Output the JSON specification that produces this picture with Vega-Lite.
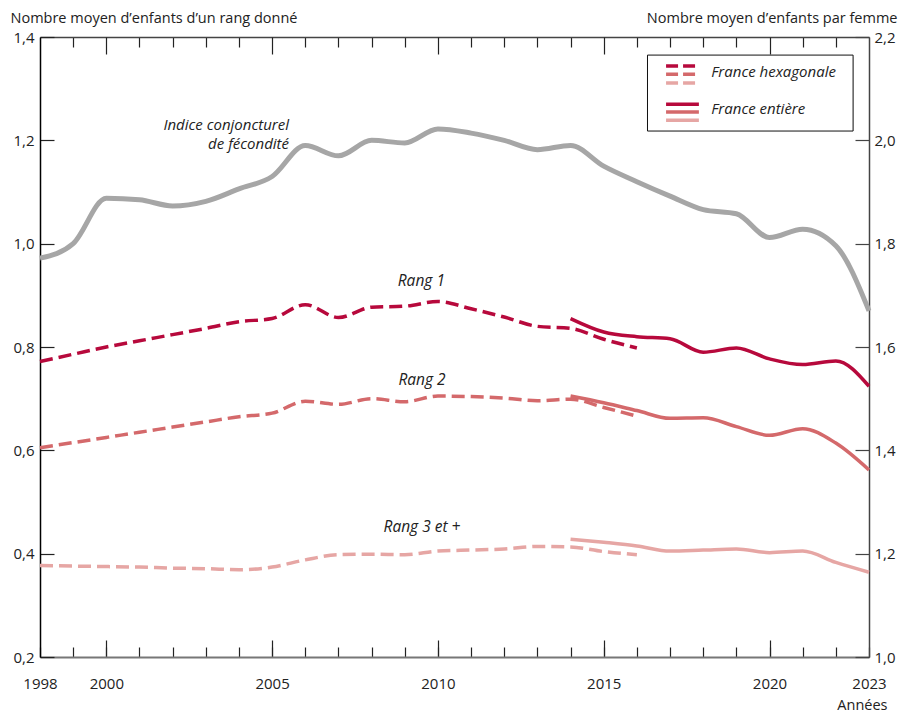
{
  "$schema": "https://vega.github.io/schema/vega-lite/v6.json",
  "width": 829,
  "height": 620,
  "autosize": {"type": "none"},
  "padding": {"left": 40, "top": 37, "right": 31, "bottom": 55},
  "background": "white",
  "config": {
    "view": {"stroke": null},
    "axis": {"grid": false, "labelFont": "Open Sans", "titleFont": "Open Sans", "labelFontSize": 15, "titleFontSize": 14.5, "labelColor": "#222", "titleColor": "#222", "titleFontWeight": "normal", "tickColor": "#222"},
    "text": {"font": "Open Sans"}
  },
  "datasets": {
    "icf": [
      {"year": 1998, "icf": 1.772}, {"year": 1999, "icf": 1.8}, {"year": 2000, "icf": 1.888}, {"year": 2001, "icf": 1.885},
      {"year": 2002, "icf": 1.873}, {"year": 2003, "icf": 1.882}, {"year": 2004, "icf": 1.906}, {"year": 2005, "icf": 1.93},
      {"year": 2006, "icf": 1.99}, {"year": 2007, "icf": 1.97}, {"year": 2008, "icf": 2.0}, {"year": 2009, "icf": 1.995},
      {"year": 2010, "icf": 2.022}, {"year": 2011, "icf": 2.014}, {"year": 2012, "icf": 2.0}, {"year": 2013, "icf": 1.982},
      {"year": 2014, "icf": 1.99}, {"year": 2015, "icf": 1.95}, {"year": 2016, "icf": 1.92}, {"year": 2017, "icf": 1.892},
      {"year": 2018, "icf": 1.866}, {"year": 2019, "icf": 1.858}, {"year": 2020, "icf": 1.812}, {"year": 2021, "icf": 1.828},
      {"year": 2022, "icf": 1.796}, {"year": 2023, "icf": 1.67}
    ],
    "rangs": [
      {"year": 1998, "rang": "Rang 1", "source": "hex", "value": 0.772},
      {"year": 1999, "rang": "Rang 1", "source": "hex", "value": 0.786},
      {"year": 2000, "rang": "Rang 1", "source": "hex", "value": 0.8},
      {"year": 2001, "rang": "Rang 1", "source": "hex", "value": 0.812},
      {"year": 2002, "rang": "Rang 1", "source": "hex", "value": 0.824},
      {"year": 2003, "rang": "Rang 1", "source": "hex", "value": 0.836},
      {"year": 2004, "rang": "Rang 1", "source": "hex", "value": 0.849},
      {"year": 2005, "rang": "Rang 1", "source": "hex", "value": 0.855},
      {"year": 2006, "rang": "Rang 1", "source": "hex", "value": 0.882},
      {"year": 2007, "rang": "Rang 1", "source": "hex", "value": 0.857},
      {"year": 2008, "rang": "Rang 1", "source": "hex", "value": 0.877},
      {"year": 2009, "rang": "Rang 1", "source": "hex", "value": 0.879},
      {"year": 2010, "rang": "Rang 1", "source": "hex", "value": 0.888},
      {"year": 2011, "rang": "Rang 1", "source": "hex", "value": 0.874},
      {"year": 2012, "rang": "Rang 1", "source": "hex", "value": 0.858},
      {"year": 2013, "rang": "Rang 1", "source": "hex", "value": 0.84},
      {"year": 2014, "rang": "Rang 1", "source": "hex", "value": 0.836},
      {"year": 2015, "rang": "Rang 1", "source": "hex", "value": 0.815},
      {"year": 2016, "rang": "Rang 1", "source": "hex", "value": 0.798},
      {"year": 2014, "rang": "Rang 1", "source": "ent", "value": 0.855},
      {"year": 2015, "rang": "Rang 1", "source": "ent", "value": 0.829},
      {"year": 2016, "rang": "Rang 1", "source": "ent", "value": 0.82},
      {"year": 2017, "rang": "Rang 1", "source": "ent", "value": 0.816},
      {"year": 2018, "rang": "Rang 1", "source": "ent", "value": 0.79},
      {"year": 2019, "rang": "Rang 1", "source": "ent", "value": 0.798},
      {"year": 2020, "rang": "Rang 1", "source": "ent", "value": 0.777},
      {"year": 2021, "rang": "Rang 1", "source": "ent", "value": 0.766},
      {"year": 2022, "rang": "Rang 1", "source": "ent", "value": 0.773},
      {"year": 2023, "rang": "Rang 1", "source": "ent", "value": 0.724},
      {"year": 1998, "rang": "Rang 2", "source": "hex", "value": 0.605},
      {"year": 1999, "rang": "Rang 2", "source": "hex", "value": 0.615},
      {"year": 2000, "rang": "Rang 2", "source": "hex", "value": 0.625},
      {"year": 2001, "rang": "Rang 2", "source": "hex", "value": 0.635},
      {"year": 2002, "rang": "Rang 2", "source": "hex", "value": 0.645},
      {"year": 2003, "rang": "Rang 2", "source": "hex", "value": 0.655},
      {"year": 2004, "rang": "Rang 2", "source": "hex", "value": 0.665},
      {"year": 2005, "rang": "Rang 2", "source": "hex", "value": 0.672},
      {"year": 2006, "rang": "Rang 2", "source": "hex", "value": 0.695},
      {"year": 2007, "rang": "Rang 2", "source": "hex", "value": 0.689},
      {"year": 2008, "rang": "Rang 2", "source": "hex", "value": 0.7},
      {"year": 2009, "rang": "Rang 2", "source": "hex", "value": 0.694},
      {"year": 2010, "rang": "Rang 2", "source": "hex", "value": 0.705},
      {"year": 2011, "rang": "Rang 2", "source": "hex", "value": 0.704},
      {"year": 2012, "rang": "Rang 2", "source": "hex", "value": 0.701},
      {"year": 2013, "rang": "Rang 2", "source": "hex", "value": 0.696},
      {"year": 2014, "rang": "Rang 2", "source": "hex", "value": 0.699},
      {"year": 2015, "rang": "Rang 2", "source": "hex", "value": 0.683},
      {"year": 2016, "rang": "Rang 2", "source": "hex", "value": 0.666},
      {"year": 2014, "rang": "Rang 2", "source": "ent", "value": 0.705},
      {"year": 2015, "rang": "Rang 2", "source": "ent", "value": 0.692},
      {"year": 2016, "rang": "Rang 2", "source": "ent", "value": 0.677},
      {"year": 2017, "rang": "Rang 2", "source": "ent", "value": 0.662},
      {"year": 2018, "rang": "Rang 2", "source": "ent", "value": 0.663},
      {"year": 2019, "rang": "Rang 2", "source": "ent", "value": 0.646},
      {"year": 2020, "rang": "Rang 2", "source": "ent", "value": 0.629},
      {"year": 2021, "rang": "Rang 2", "source": "ent", "value": 0.642},
      {"year": 2022, "rang": "Rang 2", "source": "ent", "value": 0.614},
      {"year": 2023, "rang": "Rang 2", "source": "ent", "value": 0.562},
      {"year": 1998, "rang": "Rang 3 et +", "source": "hex", "value": 0.377},
      {"year": 1999, "rang": "Rang 3 et +", "source": "hex", "value": 0.376},
      {"year": 2000, "rang": "Rang 3 et +", "source": "hex", "value": 0.375},
      {"year": 2001, "rang": "Rang 3 et +", "source": "hex", "value": 0.374},
      {"year": 2002, "rang": "Rang 3 et +", "source": "hex", "value": 0.372},
      {"year": 2003, "rang": "Rang 3 et +", "source": "hex", "value": 0.371},
      {"year": 2004, "rang": "Rang 3 et +", "source": "hex", "value": 0.369},
      {"year": 2005, "rang": "Rang 3 et +", "source": "hex", "value": 0.374},
      {"year": 2006, "rang": "Rang 3 et +", "source": "hex", "value": 0.388},
      {"year": 2007, "rang": "Rang 3 et +", "source": "hex", "value": 0.398},
      {"year": 2008, "rang": "Rang 3 et +", "source": "hex", "value": 0.399},
      {"year": 2009, "rang": "Rang 3 et +", "source": "hex", "value": 0.398},
      {"year": 2010, "rang": "Rang 3 et +", "source": "hex", "value": 0.405},
      {"year": 2011, "rang": "Rang 3 et +", "source": "hex", "value": 0.407},
      {"year": 2012, "rang": "Rang 3 et +", "source": "hex", "value": 0.409},
      {"year": 2013, "rang": "Rang 3 et +", "source": "hex", "value": 0.414},
      {"year": 2014, "rang": "Rang 3 et +", "source": "hex", "value": 0.413},
      {"year": 2015, "rang": "Rang 3 et +", "source": "hex", "value": 0.404},
      {"year": 2016, "rang": "Rang 3 et +", "source": "hex", "value": 0.398},
      {"year": 2014, "rang": "Rang 3 et +", "source": "ent", "value": 0.428},
      {"year": 2015, "rang": "Rang 3 et +", "source": "ent", "value": 0.422},
      {"year": 2016, "rang": "Rang 3 et +", "source": "ent", "value": 0.415},
      {"year": 2017, "rang": "Rang 3 et +", "source": "ent", "value": 0.405},
      {"year": 2018, "rang": "Rang 3 et +", "source": "ent", "value": 0.407},
      {"year": 2019, "rang": "Rang 3 et +", "source": "ent", "value": 0.409},
      {"year": 2020, "rang": "Rang 3 et +", "source": "ent", "value": 0.402},
      {"year": 2021, "rang": "Rang 3 et +", "source": "ent", "value": 0.405},
      {"year": 2022, "rang": "Rang 3 et +", "source": "ent", "value": 0.383},
      {"year": 2023, "rang": "Rang 3 et +", "source": "ent", "value": 0.364}
    ],
    "icfLabel": [
      {"label": "Indice conjoncturel", "year": 2005.51, "value": 1.23},
      {"label": "de fécondité", "year": 2005.51, "value": 1.192}
    ],
    "rangLabels": [
      {"label": "Rang 1", "year": 2009.5, "value": 0.928},
      {"label": "Rang 2", "year": 2009.52, "value": 0.736},
      {"label": "Rang 3 et +", "year": 2009.52, "value": 0.452}
    ],
    "one": [{}]
  },
  "layer": [
    {
      "data": {"name": "rangs"},
      "transform": [{"filter": "datum.source === 'hex'"}],
      "mark": {"type": "line", "strokeWidth": 3.5, "strokeDash": [13, 6], "interpolate": "monotone"},
      "encoding": {
        "x": {
          "field": "year", "type": "quantitative",
          "scale": {"domain": [1998, 2023], "nice": false, "zero": false},
          "axis": {"orient": "bottom", "values": [2000, 2005, 2010, 2015, 2020], "tickSize": -17, "tickWidth": 1.2, "labels": false, "domain": false, "title": null}
        },
        "y": {
          "field": "value", "type": "quantitative",
          "scale": {"domain": [0.2, 1.4], "nice": false, "zero": false},
          "axis": {
            "orient": "left",
            "values": [0.2, 0.4, 0.6, 0.8, 1.0, 1.2, 1.4],
            "labelExpr": "replace(format(datum.value, '.1f'), '.', ',')",
            "tickSize": -14, "tickWidth": 1.2,
            "domainColor": "#000", "domainWidth": 1.5,
            "labelPadding": 20, "labelBaseline": "middle",
            "title": "Nombre moyen d’enfants d’un rang donné", "titleAngle": 0, "titleAlign": "left", "titleBaseline": "middle",
            "titleX": -30, "titleY": -19
          }
        },
        "color": {"field": "rang", "type": "nominal", "scale": {"domain": ["Rang 1", "Rang 2", "Rang 3 et +"], "range": ["#b7093c", "#d4696b", "#e6a6a4"]}, "legend": null}
      }
    },
    {
      "data": {"name": "rangs"},
      "transform": [{"filter": "datum.source === 'ent'"}],
      "mark": {"type": "line", "strokeWidth": 3.5, "interpolate": "monotone"},
      "encoding": {
        "x": {
          "field": "year", "type": "quantitative",
          "scale": {"domain": [1998, 2023], "nice": false, "zero": false},
          "axis": {"orient": "top", "values": [1999, 2001, 2002, 2003, 2004, 2006, 2007, 2008, 2009, 2011, 2012, 2013, 2014, 2016, 2017, 2018, 2019, 2021, 2022], "tickSize": -10, "tickWidth": 1.2, "labels": false, "domainColor": "#444", "domainWidth": 1.5, "title": null}
        },
        "y": {"field": "value", "type": "quantitative", "scale": {"domain": [0.2, 1.4], "nice": false, "zero": false}, "axis": null},
        "color": {"field": "rang", "type": "nominal", "scale": {"domain": ["Rang 1", "Rang 2", "Rang 3 et +"], "range": ["#b7093c", "#d4696b", "#e6a6a4"]}, "legend": null}
      }
    },
    {
      "data": {"name": "icf"},
      "mark": {"type": "line", "stroke": "#a6a6a6", "strokeWidth": 5, "interpolate": "monotone"},
      "encoding": {
        "x": {
          "field": "year", "type": "quantitative",
          "scale": {"domain": [1998, 2023], "nice": false, "zero": false},
          "axis": {
            "orient": "bottom",
            "values": [1998, 1999, 2000, 2001, 2002, 2003, 2004, 2005, 2006, 2007, 2008, 2009, 2010, 2011, 2012, 2013, 2014, 2015, 2016, 2017, 2018, 2019, 2020, 2021, 2022, 2023],
            "format": "d",
            "labelExpr": "indexof([1998, 2000, 2005, 2010, 2015, 2020, 2023], datum.value) >= 0 ? datum.label : ''",
            "tickSize": -10, "tickWidth": 1.2,
            "domainColor": "#777", "domainWidth": 2,
            "labelPadding": 29, "labelOverlap": false, "labelFlush": false, "labelBound": false,
            "title": "Années", "titleAngle": 0, "titleAlign": "right", "titleBaseline": "middle",
            "titleX": 847, "titleY": 48
          }
        },
        "y": {
          "field": "icf", "type": "quantitative",
          "scale": {"domain": [1.0, 2.2], "nice": false, "zero": false},
          "axis": {
            "orient": "right",
            "values": [1.0, 1.2, 1.4, 1.6, 1.8, 2.0, 2.2],
            "labelExpr": "replace(format(datum.value, '.1f'), '.', ',')",
            "tickSize": -14, "tickWidth": 1.2, "tickColor": "#444",
            "domainColor": "#444", "domainWidth": 1.5,
            "labelPadding": 19, "labelBaseline": "middle",
            "title": "Nombre moyen d’enfants par femme", "titleAngle": 0, "titleAlign": "right", "titleBaseline": "middle",
            "titleX": 28, "titleY": -19
          }
        }
      }
    },
    {
      "data": {"name": "icfLabel"},
      "mark": {"type": "text", "align": "right", "baseline": "middle", "fontStyle": "italic", "fontSize": 15, "color": "#222"},
      "encoding": {
        "x": {
          "field": "year", "type": "quantitative",
          "scale": {"domain": [1998, 2023], "nice": false, "zero": false},
          "axis": {"orient": "top", "values": [2000, 2005, 2010, 2015, 2020], "tickSize": -17, "tickWidth": 1.2, "labels": false, "domain": false, "title": null}
        },
        "y": {"field": "value", "type": "quantitative", "scale": {"domain": [0.2, 1.4], "nice": false, "zero": false}, "axis": null},
        "text": {"field": "label"}
      }
    },
    {
      "data": {"name": "rangLabels"},
      "mark": {"type": "text", "align": "center", "baseline": "middle", "fontStyle": "italic", "fontSize": 15.5, "color": "#222"},
      "encoding": {
        "x": {"field": "year", "type": "quantitative", "scale": {"domain": [1998, 2023], "nice": false, "zero": false}, "axis": null},
        "y": {"field": "value", "type": "quantitative", "scale": {"domain": [0.2, 1.4], "nice": false, "zero": false}, "axis": null},
        "text": {"field": "label"}
      }
    },
    {
      "data": {"name": "one"},
      "mark": {"type": "rect", "fill": "#222", "xOffset": 2, "yOffset": 2},
      "encoding": {
        "x": {"datum": 2016.32, "type": "quantitative", "scale": {"domain": [1998, 2023], "nice": false, "zero": false}, "axis": null}, "x2": {"datum": 2022.52},
        "y": {"datum": 1.365, "type": "quantitative", "scale": {"domain": [0.2, 1.4], "nice": false, "zero": false}, "axis": null}, "y2": {"datum": 1.218}
      }
    },
    {
      "data": {"name": "one"},
      "mark": {"type": "rect", "fill": "white", "stroke": "#111", "strokeWidth": 1},
      "encoding": {
        "x": {"datum": 2016.32, "type": "quantitative", "scale": {"domain": [1998, 2023], "nice": false, "zero": false}, "axis": null}, "x2": {"datum": 2022.52},
        "y": {"datum": 1.365, "type": "quantitative", "scale": {"domain": [0.2, 1.4], "nice": false, "zero": false}, "axis": null}, "y2": {"datum": 1.218}
      }
    },
    {
      "data": {"name": "one"},
      "mark": {"type": "rule", "stroke": "#b7093c", "strokeWidth": 3.5, "strokeDash": [12, 5]},
      "encoding": {
        "x": {"datum": 2016.88, "type": "quantitative", "scale": {"domain": [1998, 2023], "nice": false, "zero": false}, "axis": null}, "x2": {"datum": 2017.87},
        "y": {"datum": 1.344, "type": "quantitative", "scale": {"domain": [0.2, 1.4], "nice": false, "zero": false}, "axis": null}
      }
    },
    {
      "data": {"name": "one"},
      "mark": {"type": "rule", "stroke": "#d4696b", "strokeWidth": 3.5, "strokeDash": [12, 5]},
      "encoding": {
        "x": {"datum": 2016.88, "type": "quantitative", "scale": {"domain": [1998, 2023], "nice": false, "zero": false}, "axis": null}, "x2": {"datum": 2017.87},
        "y": {"datum": 1.328, "type": "quantitative", "scale": {"domain": [0.2, 1.4], "nice": false, "zero": false}, "axis": null}
      }
    },
    {
      "data": {"name": "one"},
      "mark": {"type": "rule", "stroke": "#e6a6a4", "strokeWidth": 3.5, "strokeDash": [12, 5]},
      "encoding": {
        "x": {"datum": 2016.88, "type": "quantitative", "scale": {"domain": [1998, 2023], "nice": false, "zero": false}, "axis": null}, "x2": {"datum": 2017.87},
        "y": {"datum": 1.311, "type": "quantitative", "scale": {"domain": [0.2, 1.4], "nice": false, "zero": false}, "axis": null}
      }
    },
    {
      "data": {"name": "one"},
      "mark": {"type": "rule", "stroke": "#b7093c", "strokeWidth": 3.5},
      "encoding": {
        "x": {"datum": 2016.88, "type": "quantitative", "scale": {"domain": [1998, 2023], "nice": false, "zero": false}, "axis": null}, "x2": {"datum": 2017.87},
        "y": {"datum": 1.27, "type": "quantitative", "scale": {"domain": [0.2, 1.4], "nice": false, "zero": false}, "axis": null}
      }
    },
    {
      "data": {"name": "one"},
      "mark": {"type": "rule", "stroke": "#d4696b", "strokeWidth": 3.5},
      "encoding": {
        "x": {"datum": 2016.88, "type": "quantitative", "scale": {"domain": [1998, 2023], "nice": false, "zero": false}, "axis": null}, "x2": {"datum": 2017.87},
        "y": {"datum": 1.255, "type": "quantitative", "scale": {"domain": [0.2, 1.4], "nice": false, "zero": false}, "axis": null}
      }
    },
    {
      "data": {"name": "one"},
      "mark": {"type": "rule", "stroke": "#e6a6a4", "strokeWidth": 3.5},
      "encoding": {
        "x": {"datum": 2016.88, "type": "quantitative", "scale": {"domain": [1998, 2023], "nice": false, "zero": false}, "axis": null}, "x2": {"datum": 2017.87},
        "y": {"datum": 1.239, "type": "quantitative", "scale": {"domain": [0.2, 1.4], "nice": false, "zero": false}, "axis": null}
      }
    },
    {
      "data": {"name": "one"},
      "mark": {"type": "text", "text": "France hexagonale", "align": "left", "baseline": "middle", "fontStyle": "italic", "fontSize": 15, "color": "#222"},
      "encoding": {
        "x": {"datum": 2018.24, "type": "quantitative", "scale": {"domain": [1998, 2023], "nice": false, "zero": false}, "axis": null},
        "y": {"datum": 1.332, "type": "quantitative", "scale": {"domain": [0.2, 1.4], "nice": false, "zero": false}, "axis": null}
      }
    },
    {
      "data": {"name": "one"},
      "mark": {"type": "text", "text": "France entière", "align": "left", "baseline": "middle", "fontStyle": "italic", "fontSize": 15, "color": "#222"},
      "encoding": {
        "x": {"datum": 2018.24, "type": "quantitative", "scale": {"domain": [1998, 2023], "nice": false, "zero": false}, "axis": null},
        "y": {"datum": 1.26, "type": "quantitative", "scale": {"domain": [0.2, 1.4], "nice": false, "zero": false}, "axis": null}
      }
    }
  ],
  "resolve": {"scale": {"y": "independent"}, "axis": {"x": "independent", "y": "independent"}}
}
